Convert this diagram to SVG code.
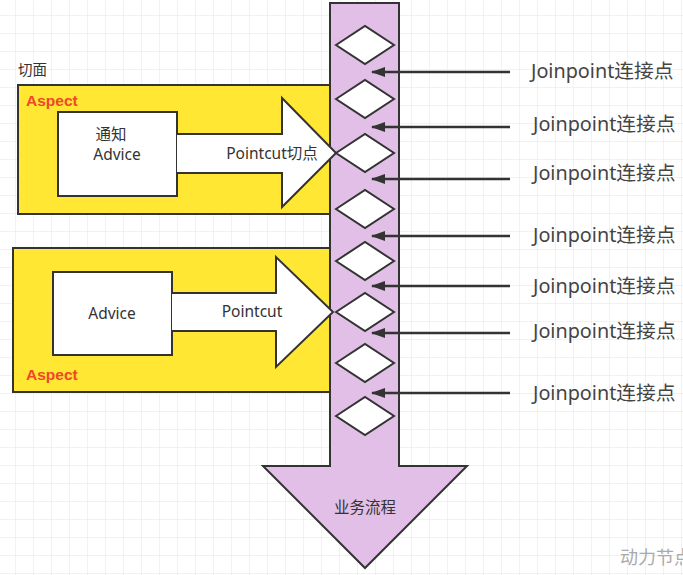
<svg xmlns="http://www.w3.org/2000/svg" width="683" height="575" viewBox="0 0 683 575">
<defs>
<pattern id="grid" x="15" y="15" width="18" height="18" patternUnits="userSpaceOnUse">
<path d="M0 0 H18 M0 0 V18" fill="none" stroke="#e6e6e6" stroke-width="1"/>
</pattern>
<marker id="ah" viewBox="0 0 14 10" refX="13" refY="5" markerWidth="14" markerHeight="10" markerUnits="userSpaceOnUse" orient="auto">
<path d="M0 0 L14 5 L0 10 Z" fill="#333"/>
</marker>
<style>
.t{font-family:"Noto Sans","Noto Sans CJK SC",sans-serif;fill:#333;}
.asp{font-family:"Liberation Sans","Noto Sans CJK SC",sans-serif;font-weight:bold;font-size:15.5px;fill:#f0462a;}
.box{fill:#ffe733;stroke:#333;stroke-width:2;}
.wb{fill:#fff;stroke:#333;stroke-width:2;}
.dia{fill:#fff;stroke:#333;stroke-width:2;}
.jl{stroke:#333;stroke-width:2.5;fill:none;}
.jt{font-family:"Noto Sans","Noto Sans CJK SC",sans-serif;font-size:19.8px;fill:#444;}
</style>
</defs>
<rect width="683" height="575" fill="#fff"/>
<rect width="683" height="575" fill="url(#grid)"/>

<text class="t" x="18" y="75" font-size="14.5">切面</text>

<g id="aspect1">
<rect class="box" x="18" y="85" width="320" height="129"/>
<text class="asp" x="26" y="106">Aspect</text>
</g>
<g id="aspect2">
<rect class="box" x="13" y="248" width="325" height="144"/>
<text class="asp" x="26" y="380">Aspect</text>
</g>

<g id="flow">
<path d="M330 3 H399 V466 H467 L365 568 L263 466 H330 Z" fill="#e1bfe6" stroke="#333" stroke-width="2"/>
<text class="t" x="365" y="513" font-size="15.5" text-anchor="middle">业务流程</text>
</g>

<g id="advice1">
<rect class="wb" x="58" y="112" width="119" height="84"/>
<text class="t" x="111" y="140" font-size="15.5" text-anchor="middle">通知</text>
<text class="t" x="117" y="160" font-size="15.5" text-anchor="middle">Advice</text>
</g>
<g id="pointcut1">
<path class="wb" d="M177 134 H282 V98 L336 153 L282 207 V173 H177"/>
<text class="t" x="272" y="159" font-size="15.5" text-anchor="middle">Pointcut切点</text>
</g>

<g id="advice2">
<rect class="wb" x="53" y="272" width="119" height="83"/>
<text class="t" x="112" y="319" font-size="15.5" text-anchor="middle">Advice</text>
</g>
<g id="pointcut2">
<path class="wb" d="M172 293 H276 V257 L333 312 L276 367 V331 H172"/>
<text class="t" x="252" y="317" font-size="15.5" text-anchor="middle">Pointcut</text>
</g>

<g id="joinpoints">
<path class="dia" d="M336 45 L365 26 L394 45 L365 64 Z"/>
<path class="dia" d="M336 99 L365 80 L394 99 L365 118 Z"/>
<path class="dia" d="M336 153 L365 134 L394 153 L365 172 Z"/>
<path class="dia" d="M336 209 L365 190 L394 209 L365 228 Z"/>
<path class="dia" d="M336 261 L365 242 L394 261 L365 280 Z"/>
<path class="dia" d="M336 312 L365 293 L394 312 L365 331 Z"/>
<path class="dia" d="M336 363 L365 344 L394 363 L365 382 Z"/>
<path class="dia" d="M336 416 L365 397 L394 416 L365 435 Z"/>
</g>

<g id="connectors">
<line class="jl" x1="510" y1="72" x2="372" y2="72" marker-end="url(#ah)"/>
<line class="jl" x1="510" y1="127" x2="372" y2="127" marker-end="url(#ah)"/>
<line class="jl" x1="510" y1="179" x2="372" y2="179" marker-end="url(#ah)"/>
<line class="jl" x1="510" y1="236" x2="372" y2="236" marker-end="url(#ah)"/>
<line class="jl" x1="510" y1="286" x2="372" y2="286" marker-end="url(#ah)"/>
<line class="jl" x1="510" y1="333" x2="372" y2="333" marker-end="url(#ah)"/>
<line class="jl" x1="510" y1="393" x2="372" y2="393" marker-end="url(#ah)"/>
</g>

<g id="labels">
<text class="jt" x="531" y="78">Joinpoint连接点</text>
<text class="jt" x="533" y="131">Joinpoint连接点</text>
<text class="jt" x="533" y="180">Joinpoint连接点</text>
<text class="jt" x="533" y="242">Joinpoint连接点</text>
<text class="jt" x="533" y="293">Joinpoint连接点</text>
<text class="jt" x="533" y="338">Joinpoint连接点</text>
<text class="jt" x="533" y="400">Joinpoint连接点</text>
</g>

<text x="620" y="564" font-family="Noto Sans CJK SC, sans-serif" font-size="18" fill="#aaa">动力节点</text>
</svg>
